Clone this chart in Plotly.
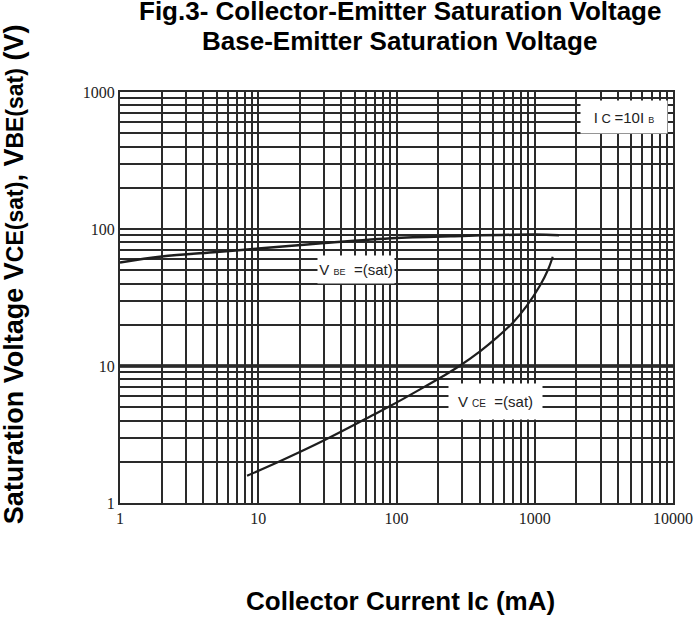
import plotly.graph_objects as go

# Data
vbe_ic = [1, 2, 5, 10, 30, 100, 300, 1000, 1500]
vbe_v = [57, 63, 68, 72, 79, 86, 89, 91, 90]

vce_ic = [8.3, 15, 30, 64, 90, 148, 218, 285, 402, 531, 700, 875, 1092, 1254, 1349]
vce_v = [1.58, 2.06, 2.87, 4.26, 5.1, 6.75, 8.45, 10, 12.8, 16.1, 20.9, 27.5, 38.7, 51.1, 62.7]

x_ticks = [1, 10, 100, 1000, 10000]
x_labels = ["1", "10", "100", "1000", "10000"]
y_ticks = [1, 10, 100, 1000]
y_labels = ["1", "10", "100", "1000"]

GRID = "#2a2a2a"
LINE = "#1e1e1e"

fig = go.Figure()
fig.add_trace(go.Scatter(x=vbe_ic, y=vbe_v, mode="lines",
                         line=dict(color=LINE, width=2.5, shape="spline"),
                         showlegend=False, hoverinfo="skip"))
fig.add_trace(go.Scatter(x=vce_ic, y=vce_v, mode="lines",
                         line=dict(color=LINE, width=2.2, shape="spline", smoothing=1.0),
                         showlegend=False, hoverinfo="skip"))

tickfont = dict(family="Liberation Serif, Times New Roman, serif", size=16, color="#222")

fig.update_xaxes(type="log", range=[0, 4], tickvals=x_ticks, ticktext=x_labels,
                 showgrid=True, gridcolor=GRID, gridwidth=2,
                 minor=dict(dtick="D1", showgrid=True, gridcolor=GRID, gridwidth=2, ticks=""),
                 showline=True, mirror=True, linecolor=GRID, linewidth=2, automargin=False,
                 ticks="", tickfont=tickfont, zeroline=False)
fig.update_yaxes(type="log", range=[0, 3], tickvals=y_ticks, ticktext=y_labels,
                 showgrid=True, gridcolor=GRID, gridwidth=2,
                 minor=dict(dtick="D1", showgrid=True, gridcolor=GRID, gridwidth=2, ticks=""),
                 showline=True, mirror=True, linecolor=GRID, linewidth=2, automargin=False,
                 ticks="", tickfont=tickfont, zeroline=False)

# thick line at 10 V
fig.add_shape(type="line", xref="paper", yref="y", x0=0, x1=1, y0=10, y1=10,
              line=dict(color="#111", width=3.5), layer="below")

ann_font = dict(family="Liberation Sans Narrow, Liberation Sans, Arial, sans-serif", size=15, color="#222")
bold = dict(family="Liberation Sans, Arial, sans-serif", size=26, color="black")
ylab_font = dict(family="Liberation Sans, Arial, sans-serif", size=27, color="black")

def A(**kw):
    base = dict(xref="paper", yref="paper", showarrow=False, xanchor="center", yanchor="middle")
    base.update(kw)
    return base

annotations = [
    A(x=0.506, y=1.197, text="<b>Fig.3- Collector-Emitter Saturation Voltage</b>", font=bold),
    A(x=0.506, y=1.123, text="<b>Base-Emitter Saturation Voltage</b>", font=bold),
    A(x=0.507, y=-0.238, text="<b>Collector Current Ic (mA)</b>", font=bold),
    A(x=-0.1915, y=0.557, textangle=-90,
      text="<b>Saturation Voltage V<span style='font-size:23px'>CE(sat)</span>, "
           "V<span style='font-size:23px'>BE(sat)</span> (V)</b>", font=ylab_font),
    A(x=0.911, y=0.940,
      text="I<span style='font-size:13px'> C </span>=10I <span style='font-size:9px'>B</span>",
      font=ann_font, bgcolor="white", width=86, height=32, borderpad=0),
    A(x=0.427, y=0.569,
      text="V <span style='font-size:9px'>BE</span>  =(sat)",
      font=ann_font, bgcolor="white", width=76, height=27, borderpad=0),
    A(x=0.679, y=0.247,
      text="V <span style='font-size:10px'>CE</span>  =(sat)",
      font=ann_font, bgcolor="white", width=93, height=35, borderpad=0),
]

fig.update_layout(width=696, height=618, margin=dict(l=120, r=23, t=92, b=115),
                  plot_bgcolor="white", paper_bgcolor="white",
                  annotations=annotations, showlegend=False)

fig.write_html("out.html", config={"displayModeBar": False},
               post_script="document.body.style.margin='0';document.body.style.overflow='hidden';")
